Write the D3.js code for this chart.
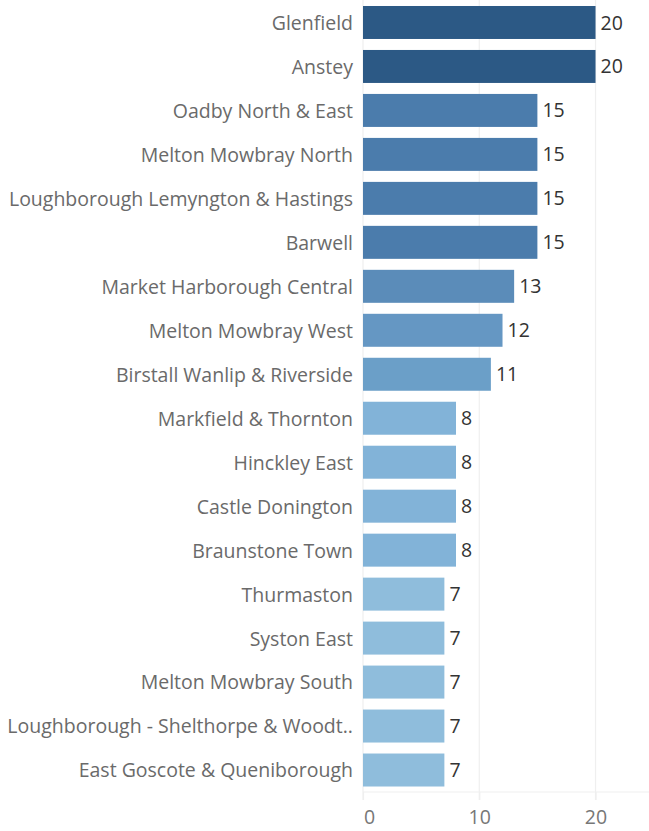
<!DOCTYPE html>
<html>
<head>
<meta charset="utf-8">
<script src="https://cdn.jsdelivr.net/npm/d3@7"></script>
<style>
  body { margin: 0; background: #fff; }
  text { font-family: "Open Sans", sans-serif; font-weight: 370; }
</style>
</head>
<body>
<div id="chart"></div>
<script>
// ward names and counts
var wards = ["Glenfield", "Anstey", "Oadby North & East", "Melton Mowbray North",
  "Loughborough Lemyngton & Hastings", "Barwell", "Market Harborough Central",
  "Melton Mowbray West", "Birstall Wanlip & Riverside", "Markfield & Thornton",
  "Hinckley East", "Castle Donington", "Braunstone Town", "Thurmaston",
  "Syston East", "Melton Mowbray South", "Loughborough - Shelthorpe & Woodt..",
  "East Goscote & Queniborough"];
var counts = [20, 20, 15, 15, 15, 15, 13, 12, 11, 8, 8, 8, 8, 7, 7, 7, 7, 7];
var xTicks = [0, 10, 20];

(function () {
  var width = 649, height = 831;
  var margin = {top: 6, right: 0, bottom: 39, left: 363};

  var data = wards.map(function(d, i) { return {name: d, value: counts[i]}; });

  var svg = d3.select("#chart").append("svg")
      .attr("width", width)
      .attr("height", height);

  var x = d3.scaleLinear().domain([0, 24.6]).range([margin.left, width]);
  var y = d3.scaleBand()
      .domain(wards)
      .range([margin.top - 5.5, 792])
      .paddingInner(0.25)
      .paddingOuter(0.125);

  var color = d3.scaleLinear()
      .domain([7, 8, 11, 12, 13, 15, 20])
      .range(["#8fbddc", "#82b3d8", "#6b9fc8", "#6597c3", "#5b8cb9", "#4b7cac", "#2c5985"]);

  // gridlines
  svg.append("g").selectAll("line")
      .data(xTicks)
      .enter().append("line")
      .attr("x1", function(d) { return x(d); })
      .attr("x2", function(d) { return x(d); })
      .attr("y1", 0)
      .attr("y2", 800)
      .attr("stroke", "#efefef")
      .attr("stroke-width", 1.2);

  // bars
  svg.append("g").selectAll("rect")
      .data(data)
      .enter().append("rect")
      .attr("x", x(0))
      .attr("y", function(d) { return y(d.name); })
      .attr("width", function(d) { return x(d.value) - x(0); })
      .attr("height", y.bandwidth())
      .attr("fill", function(d) { return color(d.value); });

  // category labels
  svg.append("g").selectAll("text")
      .data(data)
      .enter().append("text")
      .attr("x", 353)
      .attr("y", function(d) { return y(d.name) + y.bandwidth() / 2; })
      .attr("dy", "0.38em")
      .attr("text-anchor", "end")
      .attr("fill", "#6a6a6a")
      .style("font-size", "19.5px")
      .text(function(d) { return d.name; });

  // value labels
  svg.append("g").selectAll("text")
      .data(data)
      .enter().append("text")
      .attr("x", function(d) { return x(d.value) + 5; })
      .attr("y", function(d) { return y(d.name) + y.bandwidth() / 2; })
      .attr("dy", "0.36em")
      .attr("fill", "#333")
      .style("font-size", "19.5px")
      .text(function(d) { return d.value; });

  // x axis
  var axis = svg.append("g")
      .attr("transform", "translate(0,792)")
      .call(d3.axisBottom(x).tickValues(xTicks).tickSize(8).tickPadding(10));
  axis.select(".domain").attr("stroke", "#efefef").attr("stroke-width", 1.2)
      .attr("d", "M" + x(0) + ",0H" + width);
  axis.selectAll(".tick line").attr("stroke", "#efefef").attr("stroke-width", 1.2);
  axis.selectAll(".tick text")
      .attr("fill", "#777")
      .style("font-size", "19.5px")
      .style("font-family", "Open Sans, sans-serif")
      .style("font-weight", "370")
      .attr("dx", function(d) { return d === 0 ? 6 : 0; });
})();
</script>
</body>
</html>
